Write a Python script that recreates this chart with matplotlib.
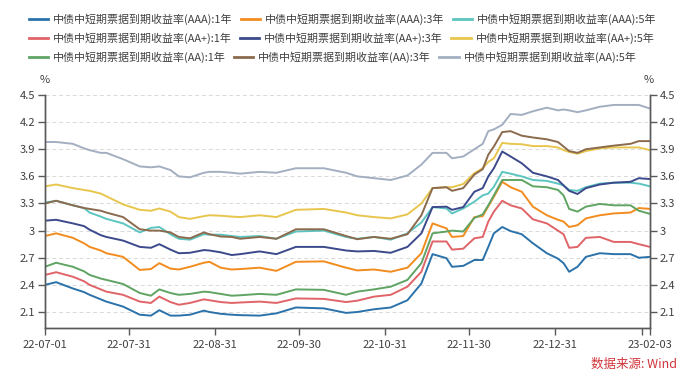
import numpy as np
import pandas as pd
import matplotlib
matplotlib.use("Agg")
import matplotlib.pyplot as plt
import matplotlib.dates as mdates

plt.rcParams['font.family'] = ['Noto Sans CJK SC', 'DejaVu Sans']

# sampling dates
dates = ['2022-07-01', '2022-07-05', '2022-07-11', '2022-07-15', '2022-07-17', '2022-07-21',
         '2022-07-23', '2022-07-29', '2022-08-04', '2022-08-08', '2022-08-11', '2022-08-15',
         '2022-08-18', '2022-08-22', '2022-08-27', '2022-08-29', '2022-09-02', '2022-09-06',
         '2022-09-09', '2022-09-16', '2022-09-22', '2022-09-29', '2022-10-09', '2022-10-17',
         '2022-10-21', '2022-10-27', '2022-11-02', '2022-11-08', '2022-11-13', '2022-11-17',
         '2022-11-22', '2022-11-24', '2022-11-28', '2022-12-02', '2022-12-05', '2022-12-07',
         '2022-12-09', '2022-12-12', '2022-12-15', '2022-12-19', '2022-12-23', '2022-12-28',
         '2023-01-01', '2023-01-03', '2023-01-05', '2023-01-08', '2023-01-11', '2023-01-16',
         '2023-01-21', '2023-01-27', '2023-01-30', '2023-02-03']

aaa_1y = [2.40, 2.43, 2.36, 2.32, 2.29, 2.24, 2.215, 2.16, 2.07, 2.06, 2.12, 2.06, 2.06, 2.07,
          2.115, 2.10, 2.08, 2.07, 2.065, 2.06, 2.085, 2.15, 2.14, 2.09, 2.10, 2.13, 2.15, 2.23,
          2.415, 2.74, 2.695, 2.60, 2.61, 2.675, 2.675, 2.82, 2.97, 3.04, 2.995, 2.96, 2.86, 2.75,
          2.69, 2.64, 2.545, 2.60, 2.71, 2.75, 2.74, 2.74, 2.70, 2.71]
aaa_3y = [2.94, 2.97, 2.92, 2.86, 2.82, 2.78, 2.75, 2.71, 2.565, 2.575, 2.64, 2.58, 2.57, 2.60,
          2.645, 2.655, 2.59, 2.57, 2.575, 2.59, 2.555, 2.655, 2.66, 2.59, 2.56, 2.57, 2.545, 2.59,
          2.75, 3.08, 3.025, 2.93, 2.94, 3.15, 3.16, 3.27, 3.375, 3.54, 3.48, 3.43, 3.265, 3.17,
          3.12, 3.10, 3.04, 3.06, 3.135, 3.17, 3.19, 3.20, 3.25, 3.24]
aaa_5y = [3.31, 3.33, 3.28, 3.25, 3.20, 3.155, 3.13, 3.08, 2.98, 3.03, 3.04, 2.96, 2.91, 2.90,
          2.96, 2.955, 2.955, 2.94, 2.93, 2.94, 2.91, 2.99, 3.00, 2.93, 2.91, 2.93, 2.90, 2.97,
          3.09, 3.26, 3.245, 3.19, 3.245, 3.32, 3.39, 3.41, 3.485, 3.65, 3.63, 3.60, 3.56, 3.55,
          3.52, 3.50, 3.45, 3.44, 3.48, 3.52, 3.53, 3.53, 3.52, 3.49]
aap_1y = [2.51, 2.54, 2.49, 2.44, 2.40, 2.35, 2.325, 2.29, 2.215, 2.20, 2.27, 2.21, 2.18, 2.20,
          2.24, 2.23, 2.21, 2.20, 2.205, 2.215, 2.20, 2.25, 2.245, 2.21, 2.225, 2.27, 2.29, 2.38,
          2.545, 2.88, 2.88, 2.79, 2.80, 2.915, 2.93, 3.10, 3.21, 3.33, 3.28, 3.245, 3.125, 3.08,
          3.00, 2.96, 2.81, 2.82, 2.92, 2.93, 2.875, 2.875, 2.85, 2.82]
aap_3y = [3.11, 3.12, 3.08, 3.05, 3.01, 2.95, 2.93, 2.89, 2.82, 2.81, 2.85, 2.79, 2.75, 2.755,
          2.785, 2.78, 2.76, 2.73, 2.74, 2.77, 2.74, 2.82, 2.82, 2.78, 2.77, 2.775, 2.755, 2.82,
          2.97, 3.26, 3.265, 3.23, 3.26, 3.43, 3.47, 3.60, 3.69, 3.875, 3.82, 3.745, 3.64, 3.60,
          3.56, 3.50, 3.44, 3.405, 3.47, 3.51, 3.53, 3.54, 3.58, 3.57]
aap_5y = [3.49, 3.51, 3.47, 3.45, 3.44, 3.41, 3.38, 3.29, 3.23, 3.22, 3.245, 3.21, 3.15, 3.13,
          3.16, 3.17, 3.165, 3.155, 3.15, 3.17, 3.15, 3.23, 3.24, 3.20, 3.17, 3.15, 3.135, 3.18,
          3.30, 3.47, 3.48, 3.48, 3.515, 3.635, 3.69, 3.76, 3.80, 3.97, 3.96, 3.955, 3.935, 3.935,
          3.92, 3.89, 3.87, 3.85, 3.88, 3.91, 3.92, 3.92, 3.92, 3.89]
aa_1y = [2.60, 2.645, 2.60, 2.55, 2.51, 2.47, 2.455, 2.41, 2.31, 2.28, 2.35, 2.31, 2.29, 2.30,
         2.325, 2.32, 2.30, 2.28, 2.285, 2.30, 2.29, 2.35, 2.345, 2.29, 2.325, 2.35, 2.38, 2.455,
         2.64, 2.97, 2.99, 3.00, 2.99, 3.14, 3.18, 3.28, 3.39, 3.56, 3.56, 3.56, 3.49, 3.48,
         3.45, 3.39, 3.24, 3.21, 3.265, 3.295, 3.28, 3.28, 3.22, 3.185]
aa_3y = [3.30, 3.33, 3.28, 3.25, 3.24, 3.22, 3.20, 3.15, 3.015, 3.00, 3.00, 2.98, 2.93, 2.915,
         2.98, 2.96, 2.935, 2.93, 2.91, 2.93, 2.91, 3.015, 3.015, 2.94, 2.905, 2.93, 2.91, 2.96,
         3.17, 3.47, 3.48, 3.44, 3.47, 3.62, 3.68, 3.84, 3.93, 4.09, 4.10, 4.05, 4.03, 4.01,
         3.98, 3.93, 3.88, 3.86, 3.90, 3.92, 3.94, 3.96, 3.99, 3.99]
aa_5y = [3.98, 3.98, 3.96, 3.91, 3.89, 3.86, 3.86, 3.79, 3.71, 3.70, 3.71, 3.67, 3.60, 3.59,
         3.64, 3.65, 3.65, 3.64, 3.63, 3.65, 3.64, 3.69, 3.69, 3.64, 3.60, 3.58, 3.56, 3.61,
         3.73, 3.86, 3.86, 3.80, 3.82, 3.90, 3.96, 4.10, 4.12, 4.17, 4.29, 4.28, 4.32, 4.36,
         4.33, 4.34, 4.33, 4.31, 4.33, 4.37, 4.39, 4.39, 4.39, 4.35]

labels = ['中债中短期票据到期收益率(AAA):1年', '中债中短期票据到期收益率(AAA):3年',
          '中债中短期票据到期收益率(AAA):5年', '中债中短期票据到期收益率(AA+):1年',
          '中债中短期票据到期收益率(AA+):3年', '中债中短期票据到期收益率(AA+):5年',
          '中债中短期票据到期收益率(AA):1年', '中债中短期票据到期收益率(AA):3年',
          '中债中短期票据到期收益率(AA):5年']
colors = ['#2b72aa', '#f28c1e', '#5cc5c0', '#e06468', '#3c4a8c', '#e8c64e',
          '#5fa463', '#8b6a4d', '#a3afc1']
series = [aaa_1y, aaa_3y, aaa_5y, aap_1y, aap_3y, aap_5y, aa_1y, aa_3y, aa_5y]

tick_dates = ['2022-07-01', '2022-07-31', '2022-08-31', '2022-09-30', '2022-10-31',
              '2022-11-30', '2022-12-31', '2023-01-31', '2023-02-03']
tick_labels = ['22-07-01', '22-07-31', '22-08-31', '22-09-30', '22-10-31',
               '22-11-30', '22-12-31', '', '23-02-03']
yticks = [2.1, 2.4, 2.7, 3.0, 3.3, 3.6, 3.9, 4.2, 4.5]
ylabels = ['2.1', '2.4', '2.7', '3', '3.3', '3.6', '3.9', '4.2', '4.5']

x = pd.to_datetime(dates)
axc = '#595959'
txt = '#404040'

fig = plt.figure(figsize=(6.94, 3.85), dpi=100)
ax = fig.add_axes([45 / 694, 1 - 328 / 385, 605 / 694, 233 / 385])

lines = []
for s, c, lab in zip(series, colors, labels):
    ln, = ax.plot(x, s, color=c, lw=1.4, label=lab)
    lines.append(ln)

ax.set_xlim(pd.Timestamp('2022-07-01'), pd.Timestamp('2023-02-03'))
ax.set_ylim(1.923, 4.5)
ax.set_xticks(pd.to_datetime(tick_dates))
ax.set_xticklabels(tick_labels)
ax.set_yticks(yticks)
ax.set_yticklabels(ylabels)
for y in yticks:
    ax.axhline(y, color='#d9d9d9', lw=0.7, ls=(0, (4, 3)), zorder=0)

ax2 = ax.twinx()
ax2.set_ylim(ax.get_ylim())
ax2.set_yticks(yticks)
ax2.set_yticklabels(ylabels)

for a in (ax, ax2):
    a.spines['top'].set_visible(False)
    for sp in ('left', 'right', 'bottom'):
        a.spines[sp].set_color(axc)
        a.spines[sp].set_linewidth(1.0)
    a.tick_params(colors=axc, labelcolor=txt, labelsize=8, length=5, width=1.0, pad=2)
ax.tick_params(axis='x', pad=4)

fig.text(45 / 694, 1 - 80 / 385, '%', ha='center', va='center', fontsize=8, color=txt)
fig.text(649 / 694, 1 - 80 / 385, '%', ha='center', va='center', fontsize=8, color=txt)
fig.text(677 / 694, 1 - 364 / 385, '数据来源: Wind', ha='right', va='center',
         fontsize=9, color='#d0343a')

# legend: three rows, each flowing left to right
row_y = [19, 38, 57]
for r in range(3):
    leg = fig.legend(handles=lines[3 * r:3 * r + 3], loc='center left',
                     bbox_to_anchor=(29 / 694, 1 - row_y[r] / 385), ncol=3,
                     frameon=False, fontsize=7.9, handlelength=1.75, handletextpad=0.45,
                     columnspacing=0.75, borderpad=0, borderaxespad=0)
    for t in leg.get_texts():
        t.set_color(txt)
    for h in leg.legend_handles:
        h.set_linewidth(2.0)

fig.savefig('out.png', dpi=100)
